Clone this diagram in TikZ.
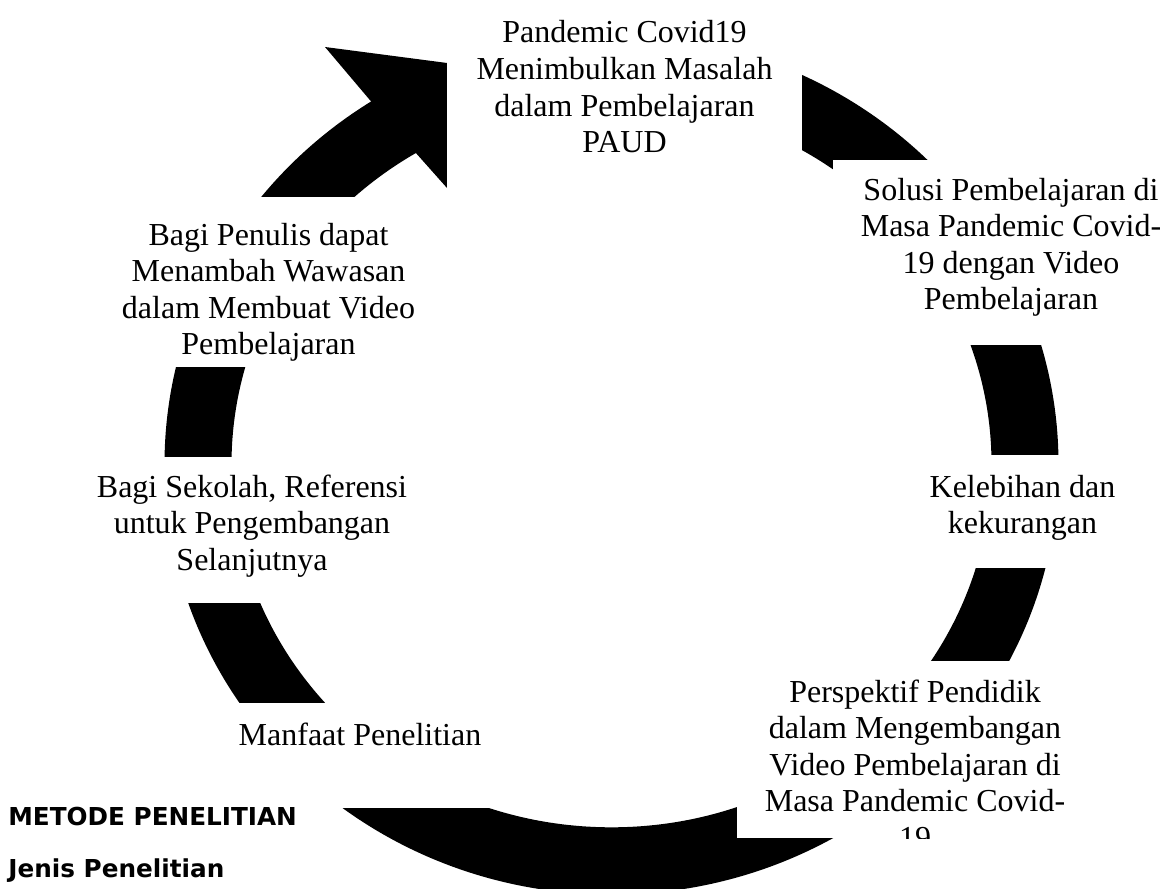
\documentclass[tikz,border=0pt]{standalone}
\usepackage{fontspec}
\setmainfont{Liberation Serif}
\newfontfamily\headfont{DejaVu Sans}
\newcommand{\cyctext}[1]{\parbox[t]{200pt}{\centering #1}}
\begin{document}
\begin{tikzpicture}[x=0.5pt,y=-0.5pt,
  txtnode/.style={anchor=base, inner sep=0pt, font={\fontsize{16}{18.25}\selectfont}},
  headnode/.style={anchor=base west, inner sep=0pt, font={\headfont\bfseries\fontsize{12.35}{14}\selectfont}},
  cover/.style={fill=white},
  ringfill/.style={fill=black}]
\useasboundingbox (0,0) rectangle (1170,888);
\clip (0,0) rectangle (1170,888);
\coordinate (c) at (611.5,464.3);
% continuous ring
\fill[ringfill, even odd rule] (c) ellipse [x radius=223.5pt, y radius=215.15pt]
                               (c) ellipse [x radius=190pt, y radius=181.5pt];
% arrow head
\fill[ringfill] (325,47) -- (470,66) -- (447,188) -- (415,152) -- (369,99) -- cycle;
% text boxes (white)
\fill[cover] (447,-5) rectangle (802,188);
\fill[cover] (833,160) rectangle (1188,345);
\fill[cover] (845,455) rectangle (1200,568);
\fill[cover] (737,661) rectangle (1092,838);
\fill[cover] (182,703) rectangle (537,808);
\fill[cover] (74,457) rectangle (430,603);
\fill[cover] (91,197) rectangle (446,367);
% texts
\node[txtnode] (pandemic) at (624.5,43) {\cyctext{Pandemic Covid19\\Menimbulkan Masalah\\dalam Pembelajaran\\PAUD}};
\node[txtnode] (solusi) at (1011,200) {\cyctext{Solusi Pembelajaran di\\Masa Pandemic Covid-\\19 dengan Video\\Pembelajaran}};
\node[txtnode] (kelebihan) at (1022.5,497) {\cyctext{Kelebihan dan\\kekurangan}};
\begin{scope}
  \clip (737,661) rectangle (1092,838);
  \node[txtnode] (perspektif) at (915,702) {\cyctext{Perspektif Pendidik\\dalam Mengembangan\\Video Pembelajaran di\\Masa Pandemic Covid-\\19}};
\end{scope}
\node[txtnode] (manfaat) at (360,745) {\cyctext{Manfaat Penelitian}};
\node[txtnode] (sekolah) at (252,497) {\cyctext{Bagi Sekolah, Referensi\\untuk Pengembangan\\Selanjutnya}};
\node[txtnode] (penulis) at (268.5,245) {\cyctext{Bagi Penulis dapat\\Menambah Wawasan\\dalam Membuat Video\\Pembelajaran}};
% headings below
\node[headnode] (metode) at (8,825) {METODE PENELITIAN};
\node[headnode] (jenis) at (8,877) {Jenis Penelitian};
\end{tikzpicture}
\end{document}
